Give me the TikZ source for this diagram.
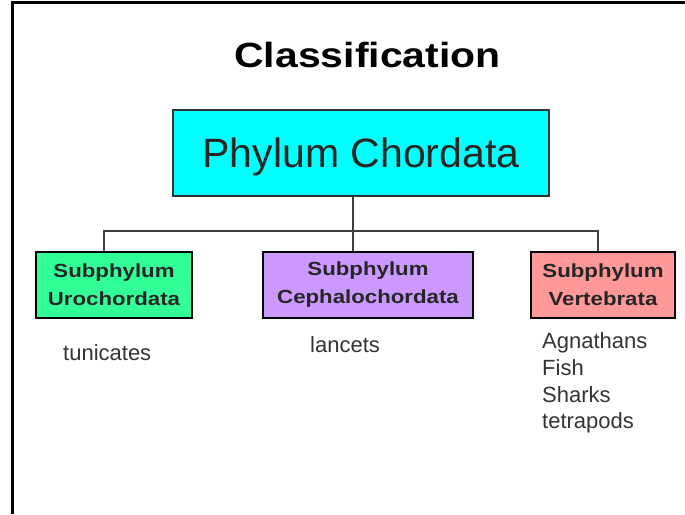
\documentclass[tikz,border=0pt]{standalone}
\usepackage{fontspec}
\setmainfont{Liberation Sans}
\newfontfamily\bwide{Liberation Sans}[FakeStretch=1.17]
\definecolor{cybox}{HTML}{00FFFF}
\definecolor{grbox}{HTML}{33FF99}
\definecolor{pubox}{HTML}{CC99FF}
\definecolor{rdbox}{HTML}{FF9999}
\definecolor{txtgray}{HTML}{333333}
\begin{document}
\begin{tikzpicture}[x=1pt,y=-1pt,
  subbox/.style={draw=black,line width=2.5pt,minimum height=66pt,inner sep=0pt,
    align=center,font=\bwide\bfseries\fontsize{19}{28}\selectfont,text=black!85},
  link/.style={draw=black!75,line width=1.8pt},
  item/.style={anchor=base west,inner sep=0pt,text=txtgray,font=\fontsize{22}{27}\selectfont}]
\useasboundingbox (0,0) rectangle (685,514);
\draw[line width=2.5pt] (12.5,514) -- (12.5,2.5) -- (685,2.5);
\node[anchor=base,inner sep=0pt,font=\bwide\bfseries\fontsize{35}{40}\selectfont] (title) at (367.5,67) {Classification};
\node[draw=black!80,line width=2pt,fill=cybox,minimum width=376pt,minimum height=86pt,inner sep=0pt,
  text depth=0pt,font=\fontsize{41}{46}\selectfont,text=black!85] (phylum) at (361,153) {Phylum Chordata};
\node[subbox,fill=grbox,minimum width=156pt] (uro) at (114,285) {Subphylum\\Urochordata};
\node[subbox,fill=pubox,minimum width=210pt] (ceph) at (368,285) {Subphylum\\Cephalochordata};
\node[subbox,fill=rdbox,minimum width=144pt] (vert) at (603,285) {Subphylum\\Vertebrata};
\coordinate (j) at (353,231);
\coordinate (hl) at (104,231);
\coordinate (hr) at (598,231);
\draw[link] (j |- phylum.south) -- (j |- ceph.north);
\draw[link] (hl |- uro.north) -- (hl) -- (hr) -- (hr |- vert.north);
\node[item] (tun) at (63,360) {tunicates};
\node[item] (lan) at (310,352) {lancets};
\node[item] (v1) at (542,348) {Agnathans};
\node[item] (v2) at (542,375) {Fish};
\node[item] (v3) at (542,402) {Sharks};
\node[item] (v4) at (542,428) {tetrapods};
\end{tikzpicture}
\end{document}
